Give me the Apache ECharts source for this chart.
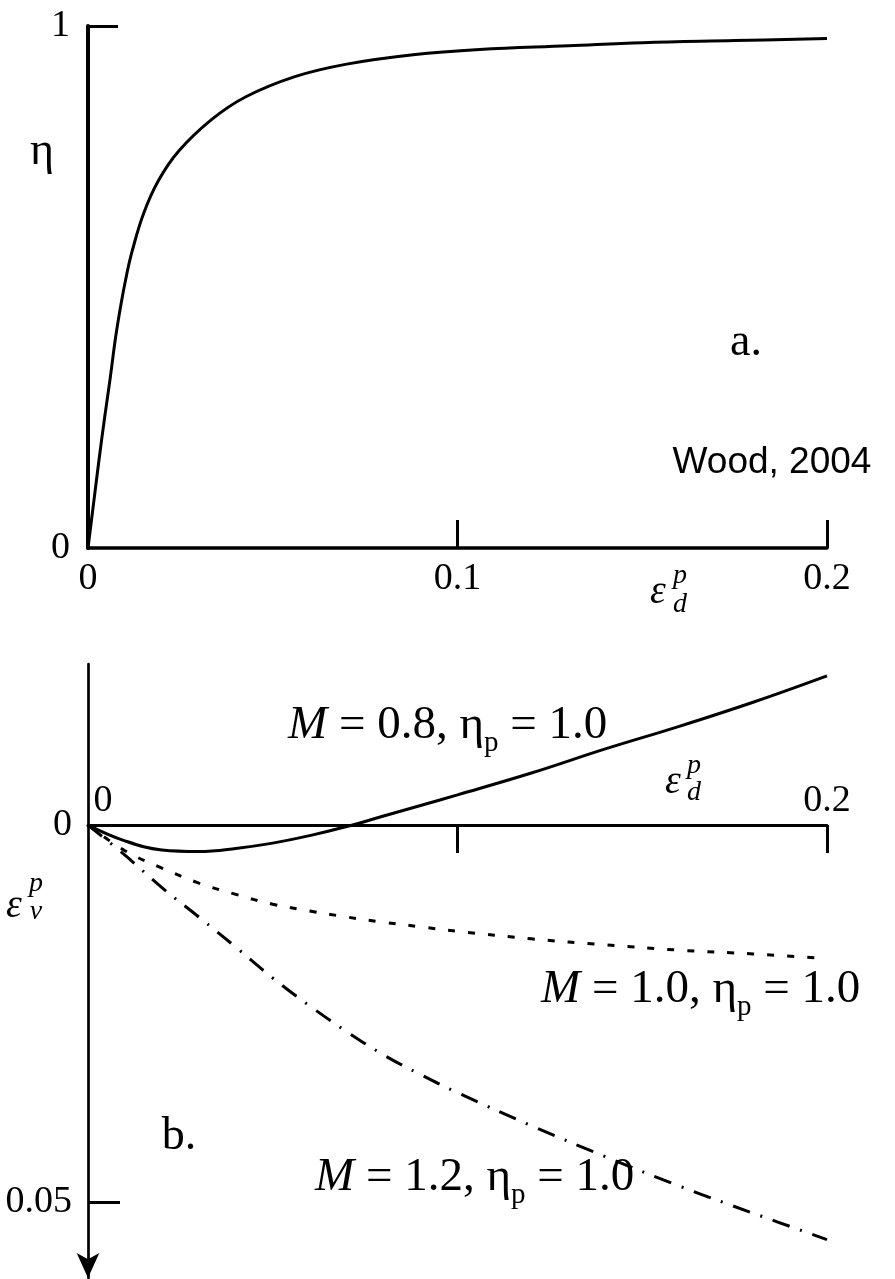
<!DOCTYPE html>
<html>
<head>
<meta charset="utf-8">
<script src="https://cdn.jsdelivr.net/npm/echarts@6/dist/echarts.min.js"></script>
<style>
  html, body { margin: 0; padding: 0; background: #fff; }
  #chart { width: 895px; height: 1279px; }
</style>
</head>
<body>
<div id="chart"></div>
<script>
// (a) stress ratio eta against plastic shear strain
const shearStrainA = [0, 0.0015, 0.003, 0.0045, 0.006, 0.0075, 0.009, 0.0105, 0.012, 0.015, 0.019, 0.0245, 0.0335, 0.0426, 0.056, 0.07, 0.088, 0.106, 0.13, 0.15, 0.175, 0.2];
const etaA         = [0, 0.085, 0.17, 0.25, 0.325, 0.405, 0.47, 0.525, 0.57, 0.64, 0.703, 0.76, 0.821, 0.864, 0.903, 0.927, 0.945, 0.955, 0.962, 0.968, 0.972, 0.976];

// (b) plastic volumetric strain against plastic shear strain (compression positive, drawn downward)
const shearB = [0, 0.01, 0.02, 0.03, 0.04, 0.05, 0.06, 0.07, 0.08, 0.09, 0.1, 0.12, 0.14, 0.16, 0.18, 0.2];
const volM08 = [0, 0.0021, 0.0033, 0.0035, 0.0031, 0.0024, 0.0014, 0.0002, -0.0012, -0.0026, -0.0040, -0.0069, -0.0101, -0.0131, -0.0163, -0.0198];
const volM10 = [0, 0.0034, 0.0057, 0.0077, 0.0092, 0.0105, 0.0114, 0.0122, 0.0129, 0.0135, 0.0141, 0.0151, 0.0159, 0.0166, 0.0171, 0.0177];
const volM12 = [0, 0.0040, 0.0083, 0.0122, 0.0162, 0.0203, 0.0240, 0.0274, 0.0305, 0.0331, 0.0355, 0.0399, 0.0440, 0.0479, 0.0515, 0.0550];

// tick values shown on the axes
const shearTicksA = [0, 0.1, 0.2];
const etaTicks    = [0, 1];
const shearTicksB = [0, 0.2];
const shearTickMarksB = [0.1, 0.2];
const volTicks    = [0, 0.05];

const mValues = ['0.8', '1.0', '1.2'];

const zip = (xs, ys) => xs.map((x, i) => [x, ys[i]]);

const SERIF = 'Liberation Serif';
const tickFont = { fontFamily: SERIF, fontSize: 38, color: '#000' };

const chart = echarts.init(document.getElementById('chart'), null, { renderer: 'canvas' });

const eqRich = {
  n: { fontFamily: SERIF, fontSize: 47, lineHeight: 64, verticalAlign: 'middle', fill: '#000' },
  i: { fontFamily: SERIF, fontSize: 47, fontStyle: 'italic', lineHeight: 64, verticalAlign: 'middle', fill: '#000' },
  s: { fontFamily: SERIF, fontSize: 29, lineHeight: 30, verticalAlign: 'bottom', fill: '#000' }
};
function eqText(mValue) {
  return '{i|M}{n| = ' + mValue + ', η}{s|p}{n| = 1.0}';
}

function symbolText(x, y, txt, size, italic, align) {
  return {
    type: 'text', x: x, y: y, silent: true,
    style: {
      text: txt, fill: '#000',
      font: (italic ? 'italic ' : '') + size + 'px "' + SERIF + '"',
      textAlign: align || 'center', textVerticalAlign: 'middle'
    }
  };
}

const baseGraphics = [
  symbolText(42, 152, 'η', 46, false),
  symbolText(746, 343, 'a.', 46, false),
  {
    type: 'text', x: 772, y: 463, silent: true,
    style: { text: 'Wood, 2004', fill: '#000', font: '37px "Liberation Sans"', textAlign: 'center', textVerticalAlign: 'middle' }
  },
  // plastic shear strain symbol, panel a
  symbolText(658, 592, 'ε', 40, true),
  symbolText(680, 576, 'p', 28, true),
  symbolText(680, 605, 'd', 28, true),
  // plastic shear strain symbol, panel b
  symbolText(673, 782, 'ε', 40, true),
  symbolText(694, 766, 'p', 28, true),
  symbolText(694, 793, 'd', 28, true),
  // plastic volumetric strain symbol
  symbolText(14, 906, 'ε', 40, true),
  symbolText(36, 884, 'p', 28, true),
  symbolText(36, 912, 'v', 28, true),
  symbolText(179, 1137, 'b.', 46, false),
  {
    type: 'text', x: 288, y: 694, silent: true,
    style: { text: eqText(mValues[0]), rich: eqRich, textAlign: 'left', textVerticalAlign: 'top' }
  },
  {
    type: 'text', x: 541, y: 958, silent: true,
    style: { text: eqText(mValues[1]), rich: eqRich, textAlign: 'left', textVerticalAlign: 'top' }
  },
  {
    type: 'text', x: 315, y: 1146, silent: true,
    style: { text: eqText(mValues[2]), rich: eqRich, textAlign: 'left', textVerticalAlign: 'top' }
  }
];

const option = {
  backgroundColor: '#fff',
  animation: false,
  grid: [
    { left: 88, top: 26, width: 739, height: 522, containLabel: false },
    { left: 88, top: 664, width: 739, height: 614, containLabel: false }
  ],
  xAxis: [
    {
      gridIndex: 0, type: 'value', min: 0, max: 0.2,
      axisLine: { show: true, lineStyle: { color: '#000', width: 3.5 } },
      axisTick: { show: true, inside: true, length: 28, customValues: [0.1, 0.2], lineStyle: { color: '#000', width: 3 } },
      axisLabel: Object.assign({ margin: 12, customValues: shearTicksA, formatter: v => String(v) }, tickFont),
      splitLine: { show: false }
    },
    {
      gridIndex: 1, type: 'value', min: 0, max: 0.2,
      axisLine: { show: true, onZero: true, lineStyle: { color: '#000', width: 3 } },
      axisTick: { show: true, inside: false, length: 28, customValues: shearTickMarksB, lineStyle: { color: '#000', width: 3 } },
      // labels for this axis sit above the zero line and are placed below
      axisLabel: { show: false },
      splitLine: { show: false }
    }
  ],
  yAxis: [
    {
      gridIndex: 0, type: 'value', min: 0, max: 1,
      axisLine: { show: true, lineStyle: { color: '#000', width: 4 } },
      axisTick: { show: true, inside: true, length: 30, customValues: [1], lineStyle: { color: '#000', width: 3 } },
      axisLabel: Object.assign({ margin: 18, customValues: etaTicks, formatter: v => String(v) }, tickFont),
      splitLine: { show: false }
    },
    {
      gridIndex: 1, type: 'value', min: -0.02137, max: 0.0601, inverse: true,
      axisLine: {
        show: true, onZero: true, symbol: ['arrow', 'none'], symbolSize: [17, 25],
        lineStyle: { color: '#000', width: 2.7 }
      },
      axisTick: { show: true, inside: true, length: 32, customValues: [0.05], lineStyle: { color: '#000', width: 3 } },
      axisLabel: Object.assign({ margin: 16, customValues: volTicks, formatter: v => String(v) }, tickFont),
      splitLine: { show: false }
    }
  ],
  series: [
    {
      name: 'eta', type: 'line', xAxisIndex: 0, yAxisIndex: 0,
      data: zip(shearStrainA, etaA), showSymbol: false, smooth: 0.4,
      lineStyle: { color: '#000', width: 3 }
    },
    {
      name: 'M ' + mValues[0], type: 'line', xAxisIndex: 1, yAxisIndex: 1,
      data: zip(shearB, volM08), showSymbol: false, smooth: 0.4,
      lineStyle: { color: '#000', width: 3 }
    },
    {
      name: 'M ' + mValues[1], type: 'line', xAxisIndex: 1, yAxisIndex: 1,
      data: zip(shearB, volM10), showSymbol: false, smooth: 0.4,
      lineStyle: { color: '#000', width: 3, type: [7, 13] }
    },
    {
      name: 'M ' + mValues[2], type: 'line', xAxisIndex: 1, yAxisIndex: 1,
      data: zip(shearB, volM12), showSymbol: false, smooth: 0.4,
      lineStyle: { color: '#000', width: 3, type: [18, 11, 2, 11] }
    }
  ],
  graphic: baseGraphics
};

chart.setOption(option);

// tick labels of the lower shear-strain axis, set just above its zero line
const lowerAxisLabels = shearTicksB.map(v => {
  const p = chart.convertToPixel({ xAxisIndex: 1, yAxisIndex: 1 }, [v, 0]);
  return {
    type: 'text', x: p[0] + (v === 0 ? 15 : 0), y: p[1] - 24, silent: true,
    style: {
      text: String(v), fill: '#000', font: '38px "' + SERIF + '"',
      textAlign: 'center', textVerticalAlign: 'middle'
    }
  };
});
chart.setOption({ graphic: baseGraphics.concat(lowerAxisLabels) });
</script>
</body>
</html>
